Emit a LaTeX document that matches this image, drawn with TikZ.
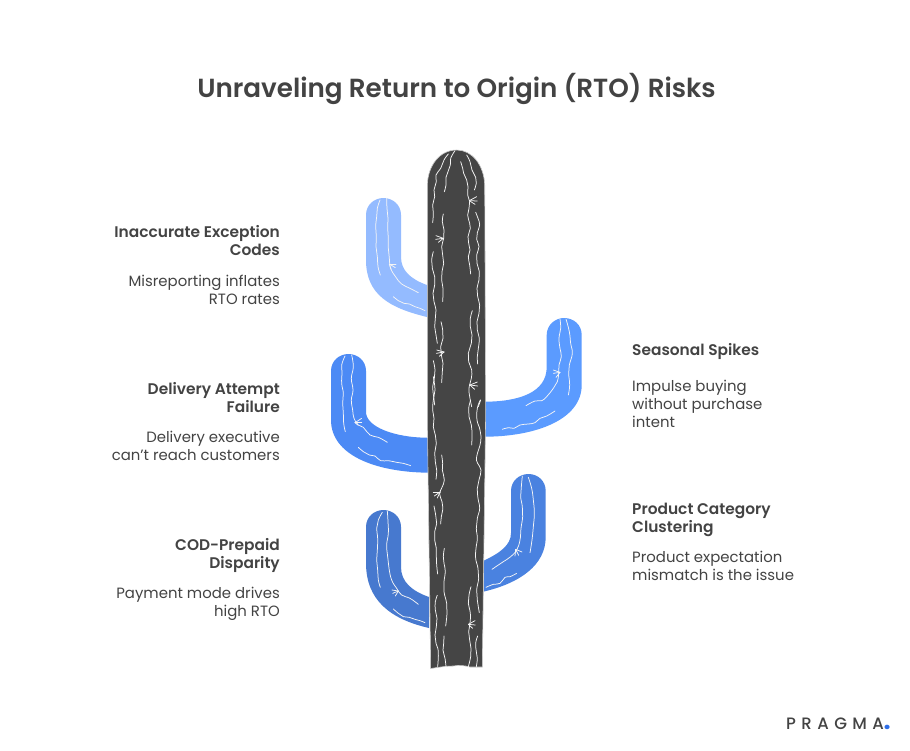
\documentclass[tikz,border=0pt]{standalone}
\usepackage{fontspec}
\setmainfont{Poppins}[BoldFont={Poppins SemiBold}]
\newfontfamily\logofont[LetterSpace=33]{Poppins Medium}
\definecolor{ink}{HTML}{434343}
\definecolor{trunkc}{HTML}{454545}
\definecolor{armA}{HTML}{94BBFF}
\definecolor{armB}{HTML}{4C8AF5}
\definecolor{armC}{HTML}{5B9BFF}
\definecolor{armD}{HTML}{4A82E0}
\definecolor{armE}{HTML}{4779CF}
\definecolor{dotblue}{HTML}{2F6FE8}
\newcommand{\squig}[1]{\draw[whiteline] plot[smooth,tension=.75] coordinates {#1};}
\newcommand{\spine}[4]{\draw[whiteline] #2 -- #1; \draw[whiteline] #3 -- #1; \draw[whiteline] #4 -- #1;}
\tikzset{
  whiteline/.style={draw=white!92!gray,line width=0.75pt,line cap=round,line join=round},
  headtext/.style={text=ink,inner sep=0pt,font=\fontsize{15.4}{18}\selectfont\bfseries},
  desctext/.style={text=ink,inner sep=0pt,font=\fontsize{14.9}{18}\selectfont},
  leftlabel/.style={anchor=north east,align=right},
  rightlabel/.style={anchor=north west,align=left},
}
\begin{document}
\begin{tikzpicture}[x=1pt,y=-1pt]
\useasboundingbox (0,0) rectangle (910,750);
\fill[white] (0,0) rectangle (910,750);
\node[text=ink,inner sep=0pt,font=\fontsize{26.2}{30}\selectfont\bfseries] (title) at (456.5,89) {Unraveling Return to Origin (RTO) Risks};
% arms
\fill[armA] (366,215) .. controls (366,205) and (374,198) .. (383.5,198) .. controls (393,198) and (401,205) .. (401,215) -- (401,257) .. controls (401,270) and (410,279) .. (427,285) -- (427,317) .. controls (390,308) and (366,295) .. (366,260) -- cycle;
\fill[armB] (331,371) .. controls (331,361) and (339,354) .. (348.5,354) .. controls (358,354) and (366,361) .. (366,371) -- (366,412) .. controls (366,427) and (395,437.7) .. (428,437.7) -- (428,472.7) .. controls (375,472) and (331,455) .. (331,420) -- cycle;
\fill[armC] (546.7,335) .. controls (546.7,325) and (555,318) .. (564,318) .. controls (574,318) and (581.7,325) .. (581.7,335) -- (581.7,385) .. controls (581.7,420) and (535,436.7) .. (484,436.7) -- (484,401.7) .. controls (520,401.7) and (546.7,392) .. (546.7,367) -- cycle;
\fill[armD] (511,491) .. controls (511,481) and (519,474) .. (528.5,474) .. controls (538,474) and (545.7,481) .. (545.7,491) -- (545.7,537) .. controls (545.7,565) and (520,583) .. (484,591.5) -- (484,560.5) .. controls (500,553) and (511,545) .. (511,533) -- cycle;
\fill[armE] (366,527) .. controls (366,517) and (374,510) .. (383.5,510) .. controls (393,510) and (401,517) .. (401,527) -- (401,567) .. controls (401,582) and (412,591) .. (429,597) -- (429,628) .. controls (390,619) and (366,600) .. (366,563) -- cycle;
% trunk
\draw[fill=trunkc,draw=black!20,line width=0.6pt] (427.3,185) .. controls (428,165) and (440,150) .. (456.7,150) .. controls (472,150) and (484,165) .. (484.7,185) -- (485.7,410) -- (482.3,667) -- (470,667) .. controls (465,665.5) and (459,665) .. (453,666) .. controls (447,666) and (440,667) .. (430.7,668.5) -- (427.3,420) -- cycle;
% texture, zoom-1 frame
\begin{scope}[shift={(320pt,-140pt)},x=0.33333pt,y=-0.33333pt]
\squig{(405,32)(392,55)(391,75)(384,95)(378,112)(378,135)(373,155)}
\squig{(385,42)(372,60)(362,85)(348,105)(349,125)(342,150)(344,170)(338,195)(340,220)(338,248)}
\squig{(422,65)(428,85)(431,100)(440,120)(444,140)(443,165)(449,185)(447,205)(443,225)(449,250)(451,265)(444,290)(446,310)(450,330)(445,350)(449,375)(452,402)}
\squig{(440,45)(450,65)(456,90)(467,112)(469,130)(463,150)}
\spine{(448,182)}{(470,170)}{(472,183)}{(465,193)}
\squig{(467,217)(474,235)(479,255)(472,278)(470,298)(477,320)(470,345)(471,370)(478,395)(477,420)(471,445)(473,470)(479,495)(477,520)(471,545)(472,570)(478,595)(475,625)(472,650)(473,672)}
\squig{(370,222)(367,245)(372,270)(371,295)(365,320)(368,345)(371,370)(366,395)(365,420)(369,445)(368,485)}
\spine{(370,295)}{(348,287)}{(347,298)}{(355,307)}
\squig{(340,335)(335,360)(337,385)(344,410)(344,435)(339,460)(342,485)(348,510)(346,535)(344,560)(348,585)(352,610)}
\squig{(363,545)(368,570)(369,595)(362,620)(364,645)(369,670)(367,695)(365,728)}
\spine{(372,636)}{(350,630)}{(349,640)}{(358,649)}
\squig{(340,662)(345,690)(343,715)(338,740)(341,770)(344,795)}
\squig{(457,512)(451,535)(451,560)(456,585)(454,610)(445,640)(446,665)(455,690)(454,715)(447,745)(450,775)(455,800)}
\spine{(450,735)}{(472,726)}{(473,738)}{(464,748)}
\squig{(482,780)(475,800)}
% arm 1
\squig{(180,180)(172,205)(170,230)(167,260)(169,290)(168,320)(172,350)(174,380)(181,405)}
\squig{(200,175)(201,205)(204,235)(203,265)(205,295)(205,325)(208,355)(212,385)(228,412)(245,432)(270,445)(295,458)}
\squig{(220,470)(235,482)(252,490)(268,492)(285,500)(300,505)(315,512)}
\spine{(208,372)}{(228,372)}{(226,383)}{(213,388)}
% arm 3
\squig{(720,537)(722,565)(717,595)(720,625)(724,650)(717,675)(716,700)(712,725)(700,745)(680,770)(665,782)(645,783)(618,797)}
\squig{(738,537)(748,575)(752,610)(757,640)(748,675)(746,700)(749,735)(745,765)}
\spine{(720,697)}{(700,690)}{(700,700)}{(708,712)}
\end{scope}
% texture, zoom-2 frame
\begin{scope}[shift={(320pt,-400pt)},x=0.33333pt,y=-0.33333pt]
\squig{(340,-70)(345,-30)(340,0)(338,30)(342,55)(340,80)(346,105)(349,130)(344,160)(346,185)(350,210)(348,238)}
\squig{(452,0)(446,25)(447,50)(454,75)(456,105)(455,135)}
\squig{(481,0)(472,25)(471,60)(480,90)(482,125)(470,170)(473,190)(483,210)(477,240)(472,265)(474,295)(479,325)(472,355)(469,385)(472,415)(468,445)(467,475)(474,505)(476,535)(470,570)(472,600)(478,638)}
\squig{(365,165)(368,190)(367,210)(373,240)(366,262)(359,282)(366,305)(368,330)(364,350)(362,372)}
\spine{(360,276)}{(340,276)}{(343,288)}{(352,294)}
\squig{(342,318)(347,345)(350,370)(344,395)(344,420)(349,445)(349,470)(350,495)(353,522)}
\squig{(373,445)(370,470)(372,490)(376,515)(372,545)(372,575)(380,610)(381,640)(377,678)}
\squig{(352,586)(346,605)(346,630)(351,655)(349,680)(345,705)(348,730)(355,755)(353,800)}
\squig{(372,708)(371,730)(369,750)(375,775)(378,800)}
\squig{(453,560)(447,585)(445,610)(451,640)(450,670)(446,695)(449,720)(453,745)(452,770)(445,800)}
\spine{(445,673)}{(465,662)}{(466,675)}{(458,685)}
\squig{(473,708)(467,730)(469,755)(472,775)(469,800)}
% arm 3 lower
\squig{(547,88)(565,83)(582,85)(600,75)(625,72)(645,68)(660,55)(680,48)(705,33)}
% arm 2
\squig{(75,-132)(65,-105)(66,-80)(65,-50)(70,-20)(68,10)(70,40)(71,70)(76,95)}
\squig{(95,-135)(100,-100)(94,-65)(99,-30)(94,0)(98,30)(102,55)(115,75)(130,82)(150,105)(175,112)(202,127)}
\squig{(115,142)(130,155)(148,165)(165,168)(182,182)(205,182)(230,187)(250,190)(272,197)}
\spine{(105,68)}{(125,55)}{(125,68)}{(115,76)}
% arm 4
\squig{(607,228)(604,260)(602,290)(607,320)(608,350)(603,385)(600,420)(590,450)(572,470)(550,485)(535,495)(516,508)}
\squig{(625,232)(635,265)(640,300)(643,340)(640,380)(636,420)(630,458)}
\squig{(498,562)(520,553)(540,550)(555,532)(570,530)(590,520)}
\spine{(587,448)}{(606,456)}{(596,466)}{(585,468)}
% arm 5
\squig{(187,337)(175,360)(170,385)(173,415)(172,450)(170,480)(173,510)(175,540)(181,562)}
\squig{(202,333)(204,365)(205,400)(200,435)(203,470)(207,505)(215,540)(230,565)(245,585)(270,595)(295,613)}
\squig{(220,627)(235,640)(250,650)(268,652)(285,658)(300,662)(315,668)}
\spine{(235,573)}{(216,570)}{(218,580)}{(226,588)}
\end{scope}
% labels
\node[headtext,leftlabel] (h1) at (280,224.4) {\strut Inaccurate Exception\\Codes};
\node[desctext,leftlabel] (d1) at (280,273.4) {\strut Misreporting inflates\\RTO rates};
\node[headtext,leftlabel] (h2) at (280,381.4) {\strut Delivery Attempt\\Failure};
\node[desctext,leftlabel] (d2) at (280,429.4) {\strut Delivery executive\\can\symbol{39}t reach customers};
\node[headtext,leftlabel] (h3) at (280,537.4) {\strut COD-Prepaid\\Disparity};
\node[desctext,leftlabel] (d3) at (280,585.4) {\strut Payment mode drives\\high RTO};
\node[headtext,rightlabel] (h4) at (632,342.4) {\strut Seasonal Spikes};
\node[desctext,rightlabel] (d4) at (632,378.4) {\strut Impulse buying\\without purchase\\intent};
\node[headtext,rightlabel] (h5) at (632,501.4) {\strut Product Category\\Clustering};
\node[desctext,rightlabel] (d5) at (632,549.4) {\strut Product expectation\\mismatch is the issue};
\node[anchor=base west,inner sep=0pt,text=ink,font=\fontsize{16.5}{18}\logofont] (logo) at (786,729) {PRAGMA\textcolor{dotblue}{\fontsize{22}{18}\selectfont\bfseries.}};
\end{tikzpicture}
\end{document}
